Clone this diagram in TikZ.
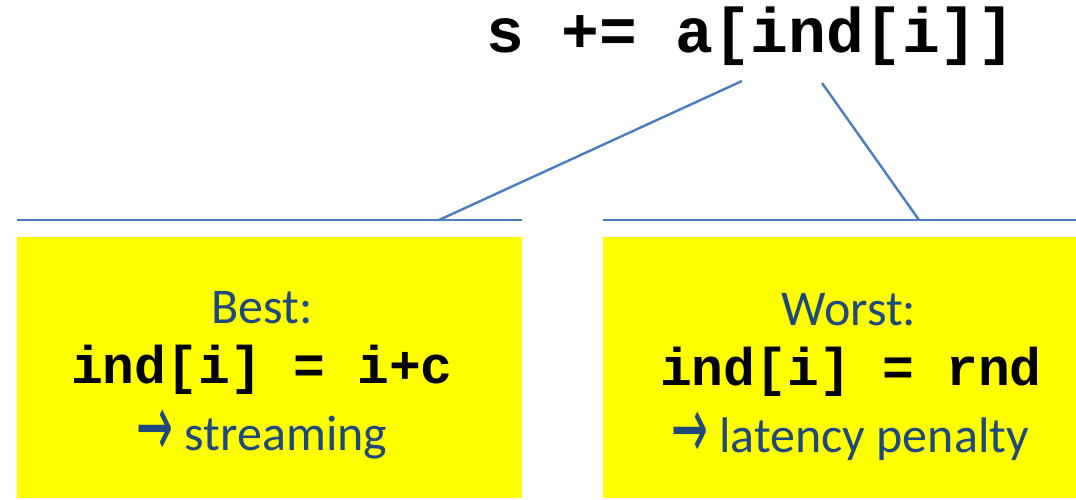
\documentclass[tikz,border=0pt]{standalone}
\usepackage{fontspec}
\usepackage{graphicx}
\setmainfont{Carlito}
\newfontfamily\codefont{Liberation Mono}
\newfontfamily\arrowfont{DejaVu Sans}
\usepackage{tikz}
\usetikzlibrary{positioning}
\usepackage{xcolor}
\definecolor{barblue}{HTML}{4A7EBB}
\definecolor{textblue}{HTML}{1F497D}
\definecolor{boxyellow}{HTML}{FFFF00}

\newcommand{\resarrow}{\raisebox{-3pt}{\scalebox{0.5}[1]{\arrowfont\fontsize{44}{44}\selectfont →}}}

\tikzset{
  bar/.style={draw=barblue, line width=1.2pt},
  box/.style={fill=boxyellow, inner sep=0pt, anchor=north west},
  lbl/.style={text=textblue, font=\fontsize{25}{29}\selectfont, anchor=base, inner sep=0pt},
  code/.style={text=black, font=\codefont\bfseries\fontsize{26.5}{30}\selectfont, anchor=base, inner sep=0pt},
}

\begin{document}
\begin{tikzpicture}[x=0.5pt, y=-0.5pt]
    \useasboundingbox (0,0) rectangle (1076,499);

    % Statement
    \node[code, font=\codefont\bfseries\fontsize{31.5}{34}\selectfont] at (751,52) (stmt) {s += a[ind[i]]};
    \coordinate (tl) at (742,81);
    \coordinate (tr) at (822,83);

    % Bars
    \coordinate (bestL) at (17,220);
    \coordinate (bestR) at (522,220);
    \coordinate (bestJ) at (439,220);
    \coordinate (worstL) at (603,220);
    \coordinate (worstR) at (1076,220);
    \coordinate (worstJ) at (919,220);
    \draw[bar] (bestL) -- (bestR);
    \draw[bar] (worstL) -- (worstR);
    \draw[bar] (tl) -- (bestJ);
    \draw[bar] (tr) -- (worstJ);

    % Best case
    \node[box, minimum width=252.5pt, minimum height=130.5pt] at (17,237) (bestbox) {};
    \node[lbl] at (262,323) (best) {Best:};
    \node[code] at (262,383) (bestcode) {ind[i] = i+c};
    \node[lbl] at (262,450) (bestres) {\resarrow\ streaming};

    % Worst case
    \node[box, minimum width=236.5pt, minimum height=130.5pt] at (603,237) (worstbox) {};
    \node[lbl] at (849,325) (worst) {Worst:};
    \node[code] at (851,385) (worstcode) {ind[i] = rnd};
    \node[lbl] at (850,452) (worstres) {\resarrow\ latency penalty};

\end{tikzpicture}
\end{document}
